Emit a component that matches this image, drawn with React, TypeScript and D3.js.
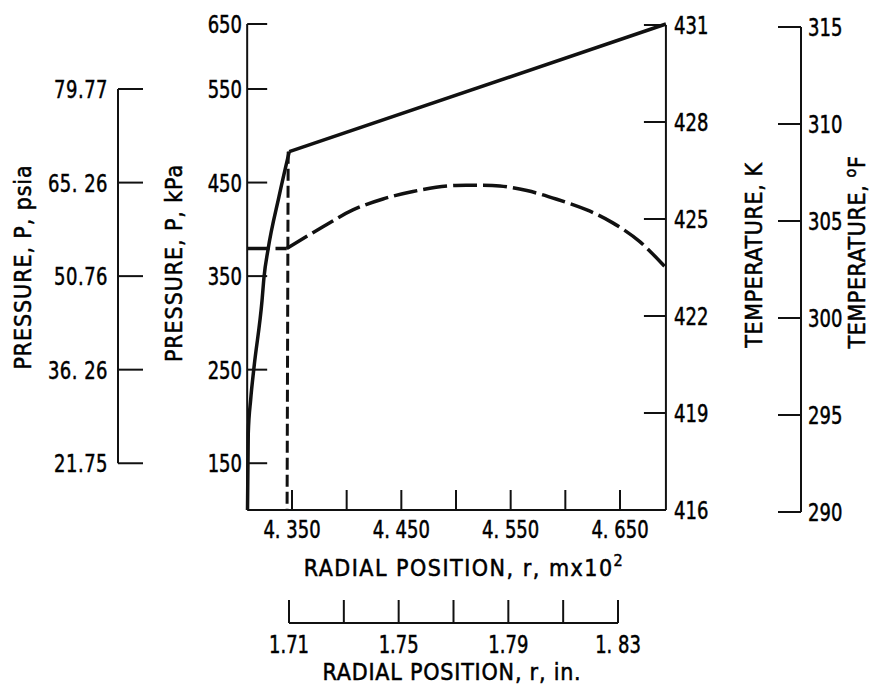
import React from "react";
import * as d3 from "d3";

// ---- data ----
const rMinCm = 4.309;
const rMaxCm = 4.692;
const cmTicks = [4.35, 4.4, 4.45, 4.5, 4.55, 4.6, 4.65];
const cmTickLabels = ["4. 350", "", "4. 450", "", "4. 550", "", "4. 650"];
const inTicks = [1.71, 1.73, 1.75, 1.77, 1.79, 1.81, 1.83];
const inTickLabels = ["1.71", "", "1.75", "", "1.79", "", "1. 83"];
const kPaTicks = [150, 250, 350, 450, 550, 650];
const psiaTicks = [79.77, 65.26, 50.76, 36.26, 21.75];
const psiaTickLabels = ["79.77", "65. 26", "50.76", "36. 26", "21.75"];
const kTicks = [416, 419, 422, 425, 428, 431];
const fTicks = [290, 295, 300, 305, 310, 315];

// solid curve (pressure, kPa) vs radial position (m x 10^2)
const pressureR = [4.3093, 4.31, 4.3122, 4.3152, 4.3226, 4.3244, 4.328, 4.3381, 4.3475, 4.692];
const pressureKPa = [100, 182, 218, 252, 324, 349, 378, 435, 483, 650];
const pressureKinkIndex = 8;

// dashed curve (temperature, K)
const tempR = [4.3093, 4.3452, 4.3783, 4.4057, 4.4332, 4.4606, 4.4917, 4.5155, 4.5401, 4.5648, 4.5922, 4.6197, 4.6434, 4.6681, 4.692];
const tempK = [424.09, 424.09, 424.76, 425.28, 425.62, 425.85, 426.02, 426.04, 426.02, 425.88, 425.61, 425.28, 424.88, 424.3, 423.49];

// dashed vertical marker
const markerR = [4.3465, 4.3455];
const markerKPa = [483, 100];

const FONT = "'DejaVu Sans Condensed', 'DejaVu Sans', sans-serif";
const INK = "#111";
const NUM_SX = 0.8;

type TProps = {
  x: number; y: number; anchor?: string; rotate?: boolean; sx?: number;
  dy?: string; spacing?: number; children?: React.ReactNode;
};
function T({ x, y, anchor = "start", rotate = false, sx = 1, dy, spacing, children }: TProps) {
  return (
    <text
      transform={`translate(${x},${y})${rotate ? " rotate(-90)" : ""} scale(${sx},1)`}
      textAnchor={anchor}
      dy={dy}
      letterSpacing={spacing}
    >
      {children}
    </text>
  );
}

export default function App() {
  const W = 873, H = 687;
  const x = d3.scaleLinear().domain([4.35, 4.65]).range([292, 620]);
  const xIn = d3.scaleLinear().domain([1.71, 1.83]).range([289, 618]);
  const yP = d3.scaleLinear().domain([100, 550, 650]).range([510, 89, 24]);
  const yK = d3.scaleLinear().domain([416, 431]).range([510, 25]);
  const yF = d3.scaleLinear().domain([290, 315]).range([512, 27]);
  const psiaToKPa = (v: number) => v / 0.145038;

  const x0 = x(rMinCm), x1 = x(rMaxCm);
  const yBottom = yP(100);

  const pts = pressureR.map((r, i) => [r, pressureKPa[i]] as [number, number]);
  const curvePart = pts.slice(0, pressureKinkIndex + 1);
  const straightPart = pts.slice(pressureKinkIndex);
  const lineP = d3.line<[number, number]>().x(d => x(d[0])).y(d => yP(d[1]));
  const curveP = d3.line<[number, number]>().x(d => x(d[0])).y(d => yP(d[1])).curve(d3.curveMonotoneX);

  const tPts = tempR.map((r, i) => [r, tempK[i]] as [number, number]);
  const lineT = d3.line<[number, number]>().x(d => x(d[0])).y(d => yK(d[1]));
  const curveT = d3.line<[number, number]>().x(d => x(d[0])).y(d => yK(d[1])).curve(d3.curveCatmullRom.alpha(0.5));
  const flatT = tPts.slice(0, 2);
  const riseT = tPts.slice(1);

  const mPts = markerR.map((r, i) => [r, markerKPa[i]] as [number, number]);

  const psiaX = 118;
  const fX = 801;
  const inY = 623;

  const txt = { fontFamily: FONT, fontSize: 23, fill: "#000", stroke: "#000", strokeWidth: 0.5 } as React.CSSProperties;
  const num = { ...txt, fontSize: 25 } as React.CSSProperties;

  return (
    <svg width={W} height={H} style={{ position: "absolute", left: 0, top: 0, background: "#fff" }}>
      <rect x={0} y={0} width={W} height={H} fill="#fff" />
      {/* main frame: left, bottom, right */}
      <g stroke={INK} strokeWidth={2} fill="none">
        <line x1={x0} y1={yP(650)} x2={x0} y2={yBottom} />
        <line x1={x0} y1={yBottom} x2={x1} y2={yBottom} />
        <line x1={x1} y1={yK(431)} x2={x1} y2={yK(416)} />
        {kPaTicks.map(v => (
          <line key={"kp" + v} x1={x0} y1={yP(v)} x2={x0 + 20} y2={yP(v)} />
        ))}
        {cmTicks.map(v => (
          <line key={"cm" + v} x1={x(v)} y1={yBottom} x2={x(v)} y2={yBottom - 20} />
        ))}
        {kTicks.map(v => (
          <line key={"k" + v} x1={x1} y1={yK(v)} x2={x1 - 22} y2={yK(v)} />
        ))}
        {/* psia axis */}
        <line x1={psiaX} y1={yP(psiaToKPa(79.77))} x2={psiaX} y2={yP(psiaToKPa(21.75))} />
        {psiaTicks.map(v => (
          <line key={"ps" + v} x1={psiaX} y1={yP(psiaToKPa(v))} x2={psiaX + 25} y2={yP(psiaToKPa(v))} />
        ))}
        {/* F axis */}
        <line x1={fX} y1={yF(315)} x2={fX} y2={yF(290)} />
        {fTicks.map(v => (
          <line key={"f" + v} x1={fX} y1={yF(v)} x2={fX - 23} y2={yF(v)} />
        ))}
        {/* inch axis */}
        <line x1={xIn(1.71)} y1={inY} x2={xIn(1.83)} y2={inY} />
        {inTicks.map(v => (
          <line key={"in" + v} x1={xIn(v)} y1={inY} x2={xIn(v)} y2={inY - 23} />
        ))}
      </g>

      {/* data */}
      <g fill="none" stroke={INK}>
        <path d={curveP(curvePart) || ""} strokeWidth={3.5} />
        <path d={lineP(straightPart) || ""} strokeWidth={3.5} />
        <path d={lineP(mPts) || ""} strokeWidth={3} strokeDasharray="12 5" />
        <path d={lineT(flatT) || ""} strokeWidth={3.5} strokeDasharray="22 6" />
        <path d={curveT(riseT) || ""} strokeWidth={3.5} strokeDasharray="24 6" />
      </g>

      {/* tick labels */}
      <g style={num}>
        {kPaTicks.map(v => (
          <T key={"tkp" + v} x={242} y={yP(v)} dy="0.36em" anchor="end" sx={NUM_SX}>{v}</T>
        ))}
        {psiaTicks.map((v, i) => (
          <T key={"tps" + v} x={108} y={yP(psiaToKPa(v))} dy="0.36em" anchor="end" sx={NUM_SX} spacing={0.6}>{psiaTickLabels[i]}</T>
        ))}
        {kTicks.map(v => (
          <T key={"tk" + v} x={674} y={yK(v)} dy="0.36em" sx={NUM_SX}>{v}</T>
        ))}
        {fTicks.map(v => (
          <T key={"tf" + v} x={808} y={yF(v)} dy="0.36em" sx={NUM_SX}>{v}</T>
        ))}
        {cmTicks.map((v, i) => cmTickLabels[i] ? (
          <T key={"tcm" + v} x={x(v)} y={538} anchor="middle" sx={NUM_SX}>{cmTickLabels[i]}</T>
        ) : null)}
        {inTicks.map((v, i) => inTickLabels[i] ? (
          <T key={"tin" + v} x={xIn(v)} y={653} anchor="middle" sx={NUM_SX}>{inTickLabels[i]}</T>
        ) : null)}
      </g>

      {/* axis titles */}
      <g style={txt}>
        <T x={464} y={576} anchor="middle" spacing={1.5}>
          RADIAL POSITION, r, mx10<tspan fontSize={16} dy={-10}>2</tspan>
        </T>
        <T x={452} y={680} anchor="middle" spacing={0.8}>RADIAL POSITION, r, in.</T>
        <T x={31} y={267} rotate anchor="middle" spacing={0.9}>PRESSURE, P, psia</T>
        <T x={182} y={263} rotate anchor="middle" spacing={0.9}>PRESSURE, P, kPa</T>
        <T x={762} y={255} rotate anchor="middle" spacing={0.6}>TEMPERATURE, K</T>
        <T x={865} y={252} rotate anchor="middle" spacing={0.6}>
          TEMPERATURE, <tspan fontSize={16} dy={-9}>o</tspan><tspan dy={9}>F</tspan>
        </T>
      </g>
    </svg>
  );
}
